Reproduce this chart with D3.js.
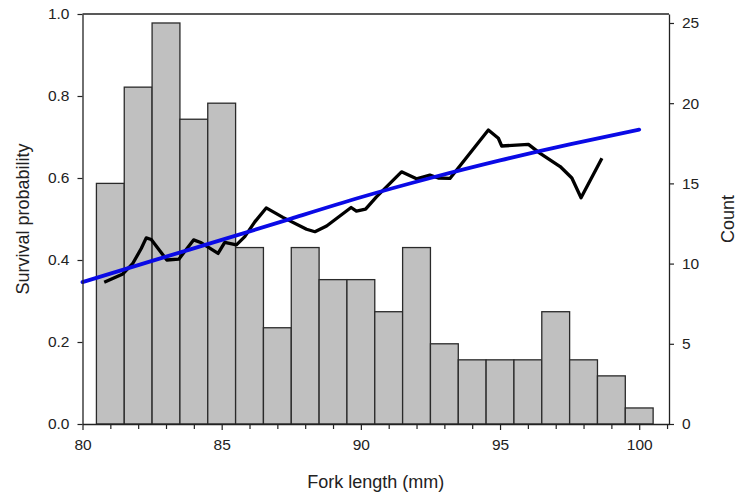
<!DOCTYPE html>
<html>
<head>
<meta charset="utf-8">
<script src="https://cdn.jsdelivr.net/npm/d3@7"></script>
<style>
  html, body { margin: 0; padding: 0; background: #fff; }
  svg { display: block; }
  text { font-family: "Liberation Sans", Arial, sans-serif; fill: #222; }
</style>
</head>
<body>
<svg id="chart" width="737" height="494"></svg>
<script>
// Histogram bins (centered on integer fork lengths, width 1 mm)
const binCenters = [81, 82, 83, 84, 85, 86, 87, 88, 89, 90, 91, 92, 93, 94, 95, 96, 97, 98, 99, 100];
const counts     = [15, 21, 25, 19, 20, 11, 6, 11, 9, 9, 7, 11, 5, 4, 4, 4, 7, 4, 3, 1];

// Fitted survival curve (blue)
const fitX = [80, 82.5, 85, 87.5, 90, 92.5, 95, 97.5, 100];
const fitY = [0.346, 0.398, 0.449, 0.501, 0.553, 0.600, 0.643, 0.682, 0.718];

// Running-mean survival (black)
const runX = [80.78, 81.45, 81.81, 82.11, 82.29, 82.47, 83.03, 83.46, 83.99, 84.27, 84.87, 85.11, 85.53, 85.83, 86.19, 86.6, 87.2, 88.05, 88.35, 88.77, 89.65, 89.84, 90.17, 90.56, 91.46, 92.0, 92.48, 92.78, 93.2, 94.58, 94.94, 95.06, 96.02, 96.44, 97.16, 97.58, 97.91, 98.66];
const runY = [0.346, 0.366, 0.392, 0.428, 0.454, 0.450, 0.400, 0.402, 0.449, 0.442, 0.416, 0.443, 0.437, 0.457, 0.493, 0.527, 0.504, 0.475, 0.469, 0.483, 0.528, 0.519, 0.524, 0.554, 0.615, 0.598, 0.607, 0.600, 0.599, 0.717, 0.697, 0.678, 0.682, 0.660, 0.628, 0.600, 0.552, 0.648];

// Tick values
const xMajorTicks = [80, 85, 90, 95, 100];
const xMinorTicks = [81, 82, 83, 84, 86, 87, 88, 89, 91, 92, 93, 94, 96, 97, 98, 99, 101];
const yLeftTicks  = [0, 0.2, 0.4, 0.6, 0.8, 1.0];
const yRightTicks = [0, 5, 10, 15, 20, 25];

const svg = d3.select("#chart");
const L = 82.5, R = 669, T = 14, B = 424;

const x = d3.scaleLinear().domain([80, 101.07]).range([L, R]);
const yL = d3.scaleLinear().domain([0, 1]).range([B, T]);
const yR = d3.scaleLinear().domain([0, 25.56]).range([B, T]);

// Bars
svg.append("g").selectAll("rect").data(binCenters).join("rect")
  .attr("x", (d) => x(d - 0.5))
  .attr("width", (d) => x(d + 0.5) - x(d - 0.5))
  .attr("y", (d, i) => yR(counts[i]))
  .attr("height", (d, i) => B - yR(counts[i]))
  .attr("fill", "#c0c0c0")
  .attr("stroke", "#2a2a2a")
  .attr("stroke-width", 1.3);

// Lines
const fitData = fitX.map((v, i) => [v, fitY[i]]);
const runData = runX.map((v, i) => [v, runY[i]]);

svg.append("path").datum(runData)
  .attr("fill", "none").attr("stroke", "#000").attr("stroke-width", 3.3)
  .attr("stroke-linejoin", "round")
  .attr("d", d3.line().x(d => x(d[0])).y(d => yL(d[1])));

svg.append("path").datum(fitData)
  .attr("fill", "none").attr("stroke", "#0a0ae6").attr("stroke-width", 3.8)
  .attr("stroke-linecap", "round")
  .attr("d", d3.line().curve(d3.curveNatural).x(d => x(d[0])).y(d => yL(d[1])));

// Axes
const fs = "15.5px";
const gx = svg.append("g").attr("transform", `translate(0,${B})`)
  .call(d3.axisBottom(x).tickValues(xMajorTicks).tickSize(6).tickSizeOuter(0).tickPadding(9));
gx.selectAll("text").style("font-size", fs);
svg.append("g").attr("transform", `translate(0,${B})`)
  .call(d3.axisBottom(x).tickValues(xMinorTicks).tickSize(5).tickFormat("").tickSizeOuter(0))
  .select(".domain").remove();

const gl = svg.append("g").attr("transform", `translate(${L},0)`)
  .call(d3.axisLeft(yL).tickValues(yLeftTicks).tickFormat(d3.format(".1f")).tickSize(5).tickSizeOuter(0).tickPadding(8));
gl.selectAll("text").style("font-size", fs);

const gr = svg.append("g").attr("transform", `translate(${R},0)`)
  .call(d3.axisRight(yR).tickValues(yRightTicks).tickSize(5).tickSizeOuter(0).tickPadding(8));
gr.selectAll("text").style("font-size", fs);

svg.selectAll(".domain").attr("stroke", "#222").attr("stroke-width", 1.3);
svg.selectAll(".tick line").attr("stroke", "#222").attr("stroke-width", 1.2);

// Top border
svg.append("line").attr("x1", L).attr("x2", R).attr("y1", T).attr("y2", T)
  .attr("stroke", "#222").attr("stroke-width", 1.3);

// Titles
svg.append("text").attr("x", (L + R) / 2).attr("y", 488)
  .attr("text-anchor", "middle").style("font-size", "18px").text("Fork length (mm)");
svg.append("text").attr("transform", `translate(29,${(T + B) / 2}) rotate(-90)`)
  .attr("text-anchor", "middle").style("font-size", "18px").text("Survival probability");
svg.append("text").attr("transform", `translate(734,${(T + B) / 2}) rotate(-90)`)
  .attr("text-anchor", "middle").style("font-size", "18px").text("Count");
</script>
</body>
</html>
